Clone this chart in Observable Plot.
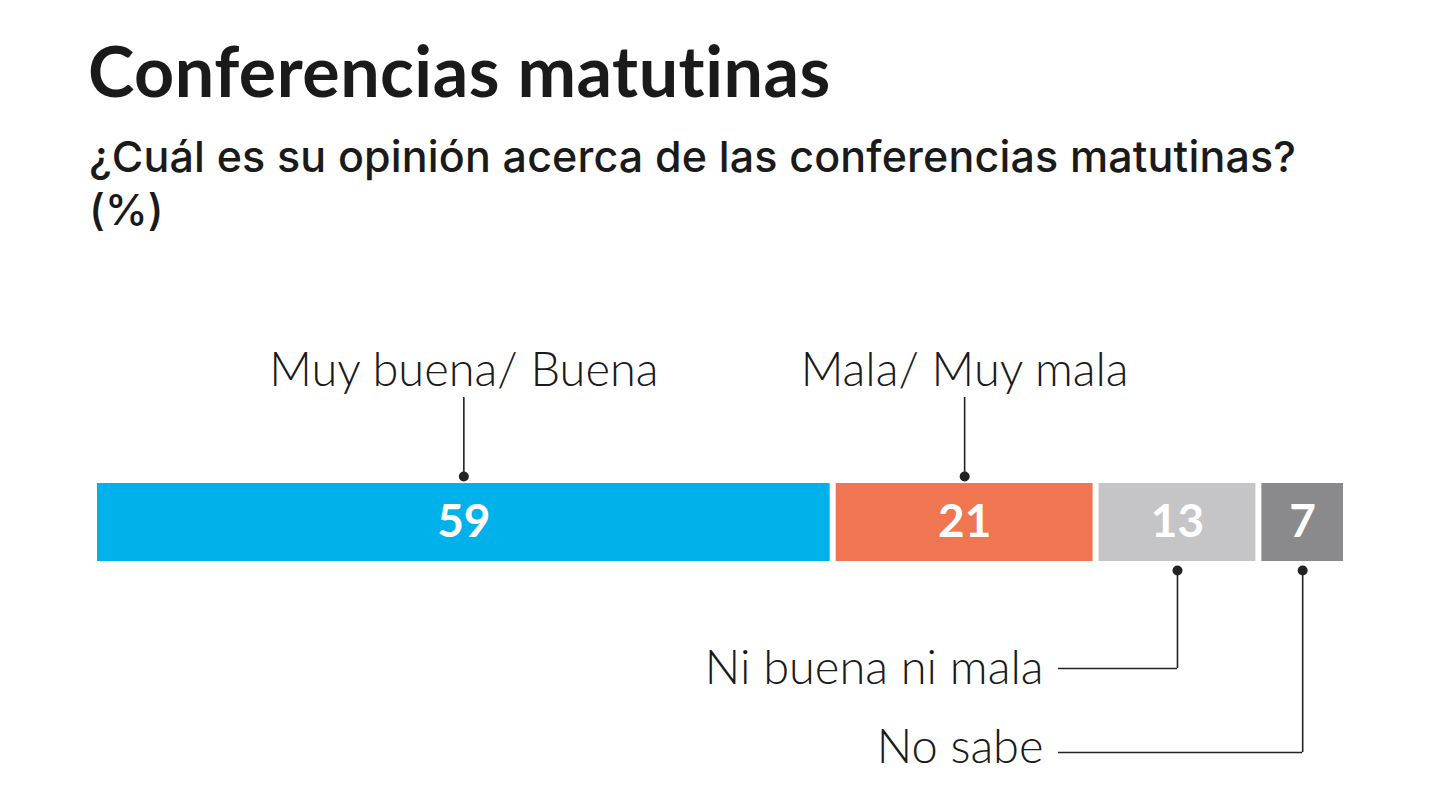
<!DOCTYPE html>
<html>
<head>
<meta charset="utf-8">
<script src="https://cdn.jsdelivr.net/npm/d3@7"></script>
<script src="https://cdn.jsdelivr.net/npm/@observablehq/plot@0.6"></script>
<style>
  html, body { margin: 0; padding: 0; background: #fff; width: 1440px; height: 810px; overflow: hidden; }
  #header { position: relative; height: 260px; font-family: Lato, "Open Sans", sans-serif; color: #1a1a1a; }
  #title { position: absolute; left: 88px; top: 35px; margin: 0; font-size: 70px; line-height: 70px; font-weight: 700; letter-spacing: 0.5px; }
  #subtitle { position: absolute; left: 89px; top: 130px; margin: 0; font-family: Inter, "Open Sans", sans-serif; font-size: 43px; line-height: 53px; font-weight: 500; letter-spacing: 0.15px; white-space: nowrap; }
  #chart svg { display: block; }
</style>
</head>
<body>
<div id="header">
  <h1 id="title">Conferencias matutinas</h1>
  <div id="subtitle">¿Cuál es su opinión acerca de las conferencias matutinas?<br>(%)</div>
</div>
<div id="chart"></div>
<script>
// ---- data ----
const categories = ["Muy buena/ Buena", "Mala/ Muy mala", "Ni buena ni mala", "No sabe"];
const values = [59, 21, 13, 7];
// ---- styles ----
const colors = ["#00b2e9", "#ef7650", "#c5c5c7", "#8a898b"];
const labelSide = ["above", "above", "below", "below"];

// ---- layout (vertical units: bar spans 0..1) ----
const L = {
  aboveText: -1.256, aboveRuleTop: -1.103, aboveDot: -0.09,
  belowDot: 1.115,
  belowLine: [null, null, 2.372, 3.449],
  belowText: [null, null, 2.564, 3.577],
  belowLineStart: 77
};

const ends = d3.cumsum(values);
const rows = categories.map((c, i) => ({
  category: c,
  value: values[i],
  x1: ends[i] - values[i],
  x2: ends[i],
  mid: ends[i] - values[i] / 2,
  side: labelSide[i],
  lineY: L.belowLine[i],
  textY: L.belowText[i]
}));
const above = rows.filter(d => d.side === "above");
const below = rows.filter(d => d.side === "below");

const lineColor = "#222";
const labelFont = { fontSize: 47, fontWeight: 300, fill: "#1a1a1a", fontFamily: "Lato, 'Open Sans', sans-serif" };

const chart = Plot.plot({
  width: 1440,
  height: 550,
  marginLeft: 94,
  marginRight: 94,
  marginTop: 0,
  marginBottom: 0,
  style: { fontFamily: "Lato, 'Open Sans', sans-serif", background: "white" },
  x: { domain: [0, 100], axis: null },
  y: { domain: [-2.859, 4.192], range: [0, 550], axis: null },
  color: { domain: categories, range: colors },
  marks: [
    Plot.rectX(rows, { x1: "x1", x2: "x2", y1: 0, y2: 1, fill: "category", insetLeft: 3, insetRight: 3 }),
    Plot.text(rows, { x: "mid", y: 0.5, text: d => String(d.value), fill: "white", fontSize: 46, fontWeight: 700, lineAnchor: "middle" }),
    // labels above
    Plot.ruleX(above, { x: "mid", y1: L.aboveRuleTop, y2: L.aboveDot, stroke: lineColor, strokeWidth: 1.6 }),
    Plot.dot(above, { x: "mid", y: L.aboveDot, r: 5, fill: lineColor }),
    Plot.text(above, { x: "mid", y: L.aboveText, text: "category", lineAnchor: "bottom", textAnchor: "middle", ...labelFont }),
    // labels below
    Plot.ruleX(below, { x: "mid", y1: L.belowDot, y2: "lineY", stroke: lineColor, strokeWidth: 1.6 }),
    Plot.ruleY(below, { y: "lineY", x1: L.belowLineStart, x2: "mid", stroke: lineColor, strokeWidth: 1.6 }),
    Plot.dot(below, { x: "mid", y: L.belowDot, r: 5, fill: lineColor }),
    Plot.text(below, { x: L.belowLineStart, y: "textY", dx: -15, text: "category", lineAnchor: "bottom", textAnchor: "end", ...labelFont })
  ]
});
document.getElementById("chart").appendChild(chart);
</script>
</body>
</html>
